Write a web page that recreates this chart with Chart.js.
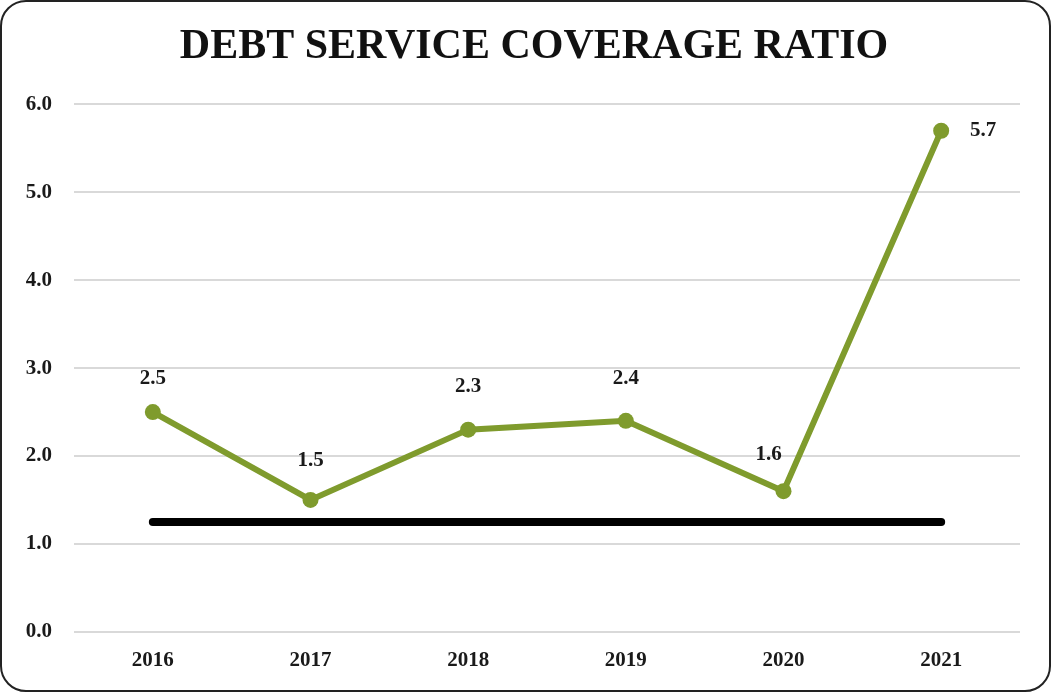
<!DOCTYPE html>
<html>
<head>
<meta charset="utf-8">
<script src="https://cdn.jsdelivr.net/npm/chart.js@4/dist/chart.umd.min.js"></script>
<style>
  html, body { margin: 0; padding: 0; background: #fff; }
  .frame {
    position: relative;
    width: 1047px;
    height: 688px;
    border: 2px solid #222;
    border-radius: 26px;
    overflow: hidden;
  }
  .frame canvas { position: absolute; left: -2px; top: -2px; }
</style>
</head>
<body>
<div class="frame">
  <canvas id="dscr" width="1051" height="692"></canvas>
</div>
<script>
  var years = ['2016', '2017', '2018', '2019', '2020', '2021'];
  var ratios = [2.5, 1.5, 2.3, 2.4, 1.6, 5.7];
  var threshold = [1.25, 1.25, 1.25, 1.25, 1.25, 1.25];
  var yTicks = [0, 1, 2, 3, 4, 5, 6];

  var serif = '"Liberation Serif", "DejaVu Serif", serif';
  var green = '#7f9b2d';

  // value labels next to each point, shifted so they don't sit on the line
  var labelShift = [[0, -33], [0, -39], [0, -43], [0, -42], [-15, -37], [42, 0]];

  var pointLabels = {
    id: 'pointLabels',
    afterDatasetsDraw: function (chart) {
      var ctx = chart.ctx;
      var meta = chart.getDatasetMeta(0);
      ctx.save();
      ctx.font = 'bold 21px ' + serif;
      ctx.fillStyle = '#1a1a1a';
      ctx.textAlign = 'center';
      ctx.textBaseline = 'middle';
      meta.data.forEach(function (pt, i) {
        var s = labelShift[i];
        ctx.fillText(ratios[i].toFixed(1), pt.x + s[0], pt.y + s[1]);
      });
      ctx.restore();
    }
  };

  var ctx = document.getElementById('dscr').getContext('2d');
  new Chart(ctx, {
    type: 'line',
    data: {
      labels: years,
      datasets: [
        {
          data: ratios,
          borderColor: green,
          backgroundColor: green,
          borderWidth: 6,
          pointRadius: 8,
          pointHoverRadius: 8,
          pointBorderWidth: 0,
          tension: 0,
          order: 0
        },
        {
          data: threshold,
          borderColor: '#000',
          borderWidth: 8,
          borderCapStyle: 'round',
          pointRadius: 0,
          pointHoverRadius: 0,
          order: 1
        }
      ]
    },
    options: {
      responsive: false,
      animation: false,
      layout: { padding: { left: 17, right: 0, top: 0, bottom: 11 } },
      plugins: {
        legend: { display: false },
        tooltip: { enabled: false },
        title: {
          display: true,
          text: 'DEBT SERVICE COVERAGE RATIO',
          color: '#111',
          font: { family: serif, size: 42, weight: 'bold' },
          padding: { top: 22, bottom: 32 }
        }
      },
      scales: {
        x: {
          offset: true,
          grid: { display: false, offset: true },
          border: { display: false },
          ticks: {
            color: '#1a1a1a',
            font: { family: serif, size: 21, weight: 'bold' },
            padding: 8
          }
        },
        y: {
          min: 0,
          max: 6,
          afterFit: function (scale) { scale.width = 57; },
          afterBuildTicks: function (scale) {
            scale.ticks = yTicks.map(function (v) { return { value: v }; });
          },
          grid: { color: '#d9d9d9', lineWidth: 2, drawTicks: false },
          border: { display: false },
          ticks: {
            color: '#1a1a1a',
            font: { family: serif, size: 21, weight: 'bold' },
            padding: 22,
            callback: function (v) { return v.toFixed(1); }
          }
        },
        // empty right-hand axis, only keeps a margin beside the plot
        yRight: {
          position: 'right',
          min: 0,
          max: 6,
          afterFit: function (scale) { scale.width = 31; },
          grid: { display: false },
          border: { display: false },
          ticks: { display: false }
        }
      }
    },
    plugins: [pointLabels]
  });
</script>
</body>
</html>
